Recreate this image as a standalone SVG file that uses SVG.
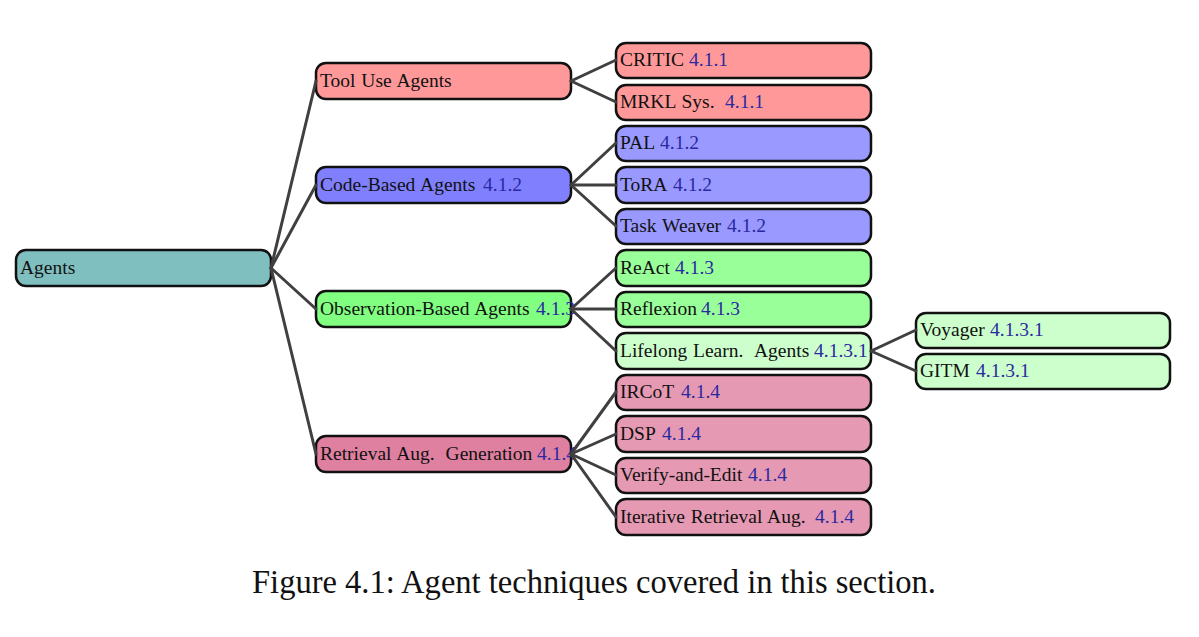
<svg xmlns="http://www.w3.org/2000/svg" width="1199" height="637" viewBox="0 0 1199 637">
<style>
.n rect{stroke:#111;stroke-width:2.5}
text{font-family:"Liberation Serif","Times New Roman",serif;font-size:19.5px;fill:#111;word-spacing:1px}
.r{fill:#2a2aa0}
.c line{stroke:#404040;stroke-width:3;stroke-linecap:round}
.root{fill:#80bfbf}
.t1{fill:#ff9999}.t2{fill:#ff9999}
.b1{fill:#8080ff}.b2{fill:#9999ff}
.g1{fill:#80ff80}.g2{fill:#99ff99}.g3{fill:#ccffcc}
.p1{fill:#df80a0}.p2{fill:#e699b3}
.cap{font-size:34px;word-spacing:0}
</style>
<rect width="1199" height="637" fill="#fff"/>
<g class="n">
<g id="agents"><rect class="root" x="16" y="250" width="255" height="36" rx="10"/><text x="20" y="274">Agents</text></g>
<g id="tooluse"><rect class="t1" x="316" y="63" width="255" height="36" rx="10"/><text x="320" y="87">Tool Use Agents</text></g>
<g id="codebased"><rect class="b1" x="316" y="167" width="255" height="36" rx="10"/><text x="320" y="191">Code-Based Agents <tspan class="r" x="483">4.1.2</tspan></text></g>
<g id="observation"><rect class="g1" x="316" y="291" width="255" height="36" rx="10"/><text x="320" y="315">Observation-Based Agents <tspan class="r" x="536">4.1.3</tspan></text></g>
<g id="retrieval"><rect class="p1" x="316" y="436" width="255" height="36" rx="10"/><text x="320" y="460">Retrieval Aug. <tspan dx="5">Generation</tspan> <tspan class="r" x="537">4.1.4</tspan></text></g>
<g id="critic"><rect class="t2" x="616" y="43" width="255" height="35" rx="10"/><text x="620" y="66">CRITIC <tspan class="r" x="689">4.1.1</tspan></text></g>
<g id="mrkl"><rect class="t2" x="616" y="85" width="255" height="35" rx="10"/><text x="620" y="108">MRKL Sys. <tspan class="r" x="725">4.1.1</tspan></text></g>
<g id="pal"><rect class="b2" x="616" y="126" width="255" height="35" rx="10"/><text x="620" y="149">PAL <tspan class="r" x="660">4.1.2</tspan></text></g>
<g id="tora"><rect class="b2" x="616" y="167" width="255" height="36" rx="10"/><text x="620" y="191">ToRA <tspan class="r" x="673">4.1.2</tspan></text></g>
<g id="taskweaver"><rect class="b2" x="616" y="209" width="255" height="35" rx="10"/><text x="620" y="232">Task Weaver <tspan class="r" x="727">4.1.2</tspan></text></g>
<g id="react"><rect class="g2" x="616" y="250" width="255" height="36" rx="10"/><text x="620" y="274">ReAct <tspan class="r" x="675">4.1.3</tspan></text></g>
<g id="reflexion"><rect class="g2" x="616" y="292" width="255" height="35" rx="10"/><text x="620" y="315">Reflexion <tspan class="r" x="701">4.1.3</tspan></text></g>
<g id="lifelong"><rect class="g3" x="616" y="333" width="255" height="36" rx="10"/><text x="620" y="357">Lifelong Learn. <tspan x="754">Agents</tspan> <tspan class="r" x="814">4.1.3.1</tspan></text></g>
<g id="ircot"><rect class="p2" x="616" y="375" width="255" height="35" rx="10"/><text x="620" y="398">IRCoT <tspan class="r" x="681">4.1.4</tspan></text></g>
<g id="dsp"><rect class="p2" x="616" y="416" width="255" height="36" rx="10"/><text x="620" y="440">DSP <tspan class="r" x="662">4.1.4</tspan></text></g>
<g id="verify"><rect class="p2" x="616" y="458" width="255" height="35" rx="10"/><text x="620" y="481">Verify-and-Edit <tspan class="r" x="748">4.1.4</tspan></text></g>
<g id="iterative"><rect class="p2" x="616" y="499" width="255" height="36" rx="10"/><text x="620" y="523">Iterative Retrieval Aug. <tspan class="r" x="815">4.1.4</tspan></text></g>
<g id="voyager"><rect class="g3" x="916" y="313" width="254" height="35" rx="10"/><text x="920" y="336">Voyager <tspan class="r" x="990">4.1.3.1</tspan></text></g>
<g id="gitm"><rect class="g3" x="916" y="354" width="254" height="35" rx="10"/><text x="920" y="377">GITM <tspan class="r" x="976">4.1.3.1</tspan></text></g>
</g>
<g class="c">
<line x1="271" y1="268" x2="316" y2="81"/>
<line x1="271" y1="268" x2="316" y2="185"/>
<line x1="271" y1="268" x2="316" y2="309"/>
<line x1="271" y1="268" x2="316" y2="454"/>
<line x1="571" y1="81" x2="616" y2="60"/>
<line x1="571" y1="81" x2="616" y2="102"/>
<line x1="571" y1="185" x2="616" y2="143"/>
<line x1="571" y1="185" x2="616" y2="185"/>
<line x1="571" y1="185" x2="616" y2="226"/>
<line x1="571" y1="309" x2="616" y2="268"/>
<line x1="571" y1="309" x2="616" y2="309"/>
<line x1="571" y1="309" x2="616" y2="351"/>
<line x1="871" y1="351" x2="916" y2="330"/>
<line x1="871" y1="351" x2="916" y2="371"/>
<line x1="571" y1="454" x2="616" y2="392"/>
<line x1="571" y1="454" x2="616" y2="434"/>
<line x1="571" y1="454" x2="616" y2="475"/>
<line x1="571" y1="454" x2="616" y2="517"/>
</g>
<text class="cap" x="252" y="593" textLength="684" lengthAdjust="spacingAndGlyphs">Figure 4.1: Agent techniques covered in this section.</text>
</svg>
